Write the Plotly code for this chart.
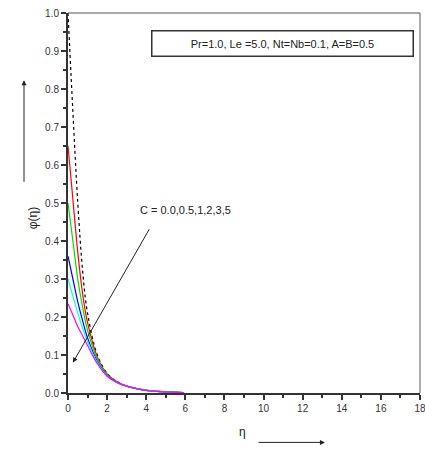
import plotly.graph_objects as go

eta = [0, 0.25, 0.5, 0.75, 1, 1.5, 2, 2.5, 3, 4, 5, 5.9]

phi_c0 = [1.0, 0.74, 0.50, 0.32, 0.21, 0.10, 0.052, 0.03, 0.018, 0.007, 0.003, 0.001]
phi_c05 = [0.65, 0.51, 0.37, 0.26, 0.185, 0.095, 0.05, 0.03, 0.018, 0.007, 0.003, 0.001]
phi_c1 = [0.50, 0.40, 0.30, 0.225, 0.165, 0.09, 0.048, 0.029, 0.018, 0.007, 0.003, 0.001]
phi_c2 = [0.36, 0.30, 0.24, 0.19, 0.145, 0.083, 0.046, 0.028, 0.018, 0.007, 0.003, 0.001]
phi_c3 = [0.30, 0.255, 0.21, 0.17, 0.135, 0.08, 0.045, 0.028, 0.018, 0.007, 0.003, 0.001]
phi_c5 = [0.235, 0.205, 0.175, 0.15, 0.125, 0.077, 0.044, 0.028, 0.018, 0.007, 0.003, 0.001]

series = [
    (phi_c0, "black", "dot"),
    (phi_c05, "red", "solid"),
    (phi_c1, "#00dd00", "solid"),
    (phi_c2, "blue", "solid"),
    (phi_c3, "cyan", "solid"),
    (phi_c5, "magenta", "solid"),
]

fig = go.Figure()
for ys, col, dash in series:
    fig.add_trace(go.Scatter(x=eta, y=ys, mode="lines",
                             line=dict(color=col, width=1.2, dash=dash, shape="spline"),
                             showlegend=False))

axis_common = dict(showgrid=False, zeroline=False, ticks="outside", ticklen=5,
                   tickwidth=1.5, tickcolor="#333", showline=True, linecolor="#333",
                   linewidth=2, ticklabeloverflow="allow", automargin=False,
                   tickfont=dict(family="Liberation Sans", size=10, color="#333"))

fig.update_xaxes(range=[0, 18], dtick=2, tick0=0,
                 minor=dict(dtick=1, ticks="outside", ticklen=3, tickcolor="#333"),
                 **axis_common)
fig.update_yaxes(range=[0, 1.0], dtick=0.1, tick0=0, tickformat=".1f",
                 minor=dict(dtick=0.05, ticks="outside", ticklen=3, tickcolor="#333"),
                 **axis_common)

# top and right frame
fig.add_shape(type="line", xref="paper", yref="paper", x0=0, x1=1, y0=1, y1=1,
              line=dict(color="#555", width=1))
fig.add_shape(type="line", xref="paper", yref="paper", x0=1, x1=1, y0=0, y1=1,
              line=dict(color="#555", width=1))

# parameter box
fig.add_annotation(xref="paper", yref="paper", x=0.61, y=0.955,
                   text="Pr=1.0, Le =5.0, Nt=Nb=0.1, A=B=0.5", showarrow=False,
                   font=dict(family="Liberation Sans", size=11, color="#222"),
                   bordercolor="#333", borderwidth=1.5, borderpad=6,
                   width=248, align="center")

# C arrow
fig.add_annotation(x=0.25, y=0.08, ax=4.2, ay=0.435, axref="x", ayref="y",
                   showarrow=True, arrowhead=2, arrowsize=1, arrowwidth=1,
                   arrowcolor="#222", text="")
fig.add_annotation(x=3.6, y=0.481, text="C = 0.0,0.5,1,2,3,5", showarrow=False,
                   xanchor="left", font=dict(family="Liberation Sans", size=11, color="#222"))

# axis titles with arrows
fig.add_annotation(xref="x domain", yref="y domain", x=-0.125, y=0.46, text="φ(η)",
                   textangle=-90, showarrow=False,
                   font=dict(family="Liberation Sans", size=12, color="#222"))
fig.add_annotation(xref="x domain", yref="y domain", x=-0.125, y=0.823,
                   ax=-0.125, ay=0.552, axref="x domain", ayref="y domain",
                   showarrow=True, arrowhead=2, arrowwidth=1, arrowcolor="#222", text="")
fig.add_annotation(xref="x domain", yref="y domain", x=0.497, y=-0.125, text="η",
                   showarrow=False, font=dict(family="Liberation Sans", size=12, color="#222"))
fig.add_annotation(xref="x domain", yref="y domain", x=0.73, y=-0.13,
                   ax=0.537, ay=-0.13, axref="x domain", ayref="y domain",
                   showarrow=True, arrowhead=2, arrowwidth=1, arrowcolor="#222", text="")

fig.update_layout(width=425, height=451, margin=dict(l=68, r=5, t=13, b=58),
                  plot_bgcolor="white", paper_bgcolor="white")

fig.write_html("out.html", config={"displayModeBar": False})

# drop the default body margin so the figure sits at the page origin
with open("out.html") as f:
    page = f.read()
page = page.replace("<head>", "<head><style>body{margin:0;overflow:hidden}</style>", 1)
with open("out.html", "w") as f:
    f.write(page)
